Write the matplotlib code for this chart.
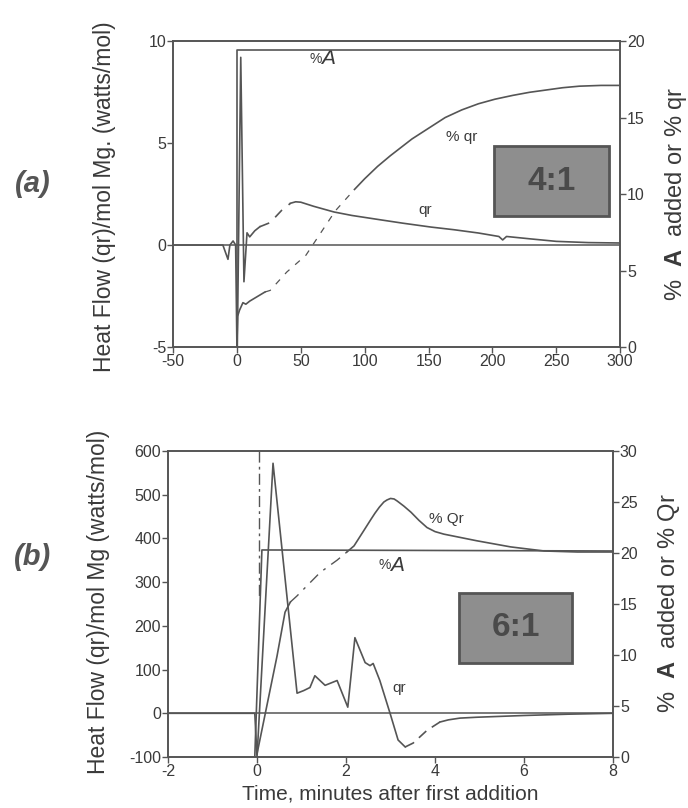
import matplotlib
matplotlib.use("Agg")
import matplotlib.pyplot as plt
from matplotlib.patches import Rectangle

plt.rcParams['font.family'] = ['Liberation Sans', 'DejaVu Sans']
plt.rcParams['mathtext.fontset'] = 'custom'
plt.rcParams['mathtext.rm'] = 'Liberation Sans'
plt.rcParams['mathtext.bf'] = 'Liberation Sans:bold'
plt.rcParams['axes.unicode_minus'] = False

INK = '#555555'
TXT = '#3a3a3a'

# ---- panel (a): 4:1, time axis -50..300 ----
a_qr_t1 = [-50, -11, -7, -5.5, -3, -1, 0, 0.3, 3, 5.5, 7.9, 10, 14, 18]
a_qr_v1 = [0, 0, -0.7, 0, 0.2, 0, -5, -5, 9.2, -1.8, 0.6, 0.4, 0.7, 0.9]
a_qr_t2 = [18, 26, 35, 42]
a_qr_v2 = [0.9, 1.1, 1.7, 2.05]
a_qr_t3 = [42, 46, 50, 60, 76, 90, 113, 130, 152, 170, 189, 205, 208, 211, 230, 250, 275, 300]
a_qr_v3 = [2.05, 2.12, 2.1, 1.9, 1.62, 1.45, 1.23, 1.07, 0.88, 0.75, 0.59, 0.42, 0.25, 0.42, 0.3, 0.18, 0.12, 0.1]

a_pA_t = [0, 0, 300]
a_pA_v = [0, 19.4, 19.4]

a_pq_t1 = [0, 0.5, 2, 4.7, 7, 10, 16, 22]
a_pq_v1 = [0, 2.0, 2.4, 2.9, 2.8, 3.0, 3.3, 3.6]
a_pq_t2 = [22, 26, 39, 54, 77, 92]
a_pq_v2 = [3.6, 3.7, 4.9, 6.0, 8.9, 10.3]
a_pq_t3 = [92, 100, 110, 120, 137, 150, 163, 176, 189, 202, 216, 229, 242, 255, 268, 285, 300]
a_pq_v3 = [10.3, 11.0, 11.8, 12.5, 13.6, 14.3, 15.0, 15.5, 15.9, 16.2, 16.45, 16.65,
           16.8, 16.95, 17.05, 17.1, 17.1]

# ---- panel (b): 6:1, time axis -2..8 min ----
b_qr_t1 = [-2, -0.05, 0.0, 0.36, 0.9, 1.05, 1.19, 1.3, 1.53, 1.8, 2.04, 2.2, 2.43,
           2.54, 2.61, 2.76, 2.99, 3.17, 3.33]
b_qr_v1 = [0, 0, -100, 572, 46, 52, 59, 86, 64, 75, 14, 173, 116, 109, 114, 75, 0, -61, -77]
b_qr_t2 = [3.33, 3.51, 3.82, 4.11]
b_qr_v2 = [-77, -68, -39, -20]
b_qr_t3 = [4.11, 4.3, 4.56, 4.94, 6, 7, 8]
b_qr_v3 = [-20, -15, -11, -9, -5, -2, 0]

b_pA_t = [-0.05, 0.11, 8]
b_pA_v = [0, 20.3, 20.2]

b_pQ_t1 = [0, 0.22, 0.45, 0.63, 0.75]
b_pQ_v1 = [0.3, 5.0, 9.9, 14.2, 15.2]
b_pQ_t2 = [0.75, 0.9, 1.42, 1.8, 2.02]
b_pQ_v2 = [15.2, 15.8, 18.1, 19.3, 20.1]
b_pQ_t3 = [2.02, 2.18, 2.4, 2.56, 2.65, 2.75, 2.85, 2.92, 3.0, 3.08, 3.15, 3.3, 3.46,
           3.64, 3.82, 4.0, 4.2, 4.94, 5.7, 6.45, 7.2, 8]
b_pQ_v3 = [20.1, 20.7, 22.2, 23.3, 23.9, 24.5, 25.0, 25.2, 25.35, 25.3, 25.1, 24.6,
           24.0, 23.2, 22.5, 22.1, 21.85, 21.2, 20.6, 20.2, 20.1, 20.1]

b_mark_t = [0.05, 0.05]
b_mark_v = [600, 268]


def style(ax, twin):
    for a in (ax, twin):
        for s in a.spines.values():
            s.set_color(INK)
            s.set_linewidth(1.2)
        a.tick_params(direction='out', length=4, width=1, colors=INK,
                      labelsize=11.5, labelcolor=TXT, pad=1)


fig = plt.figure(figsize=(6.88, 8.08), dpi=100)

# panel (a)
ax = fig.add_axes([0.2515, 0.5705, 0.650, 0.3787])
ax2 = ax.twinx()
style(ax, ax2)
ax.set_xlim(-50, 300)
ax.set_ylim(-5, 10)
ax.set_xticks(range(-50, 301, 50))
ax.set_yticks([-5, 0, 5, 10])
ax2.set_ylim(0, 20)
ax2.set_yticks([0, 5, 10, 15, 20])
ax.axhline(0, color=INK, lw=1.1)
kw = dict(color=INK, lw=1.2)
ax.plot(a_qr_t1, a_qr_v1, **kw)
ax.plot(a_qr_t2, a_qr_v2, dashes=(6, 5), **kw)
ax.plot(a_qr_t3, a_qr_v3, **kw)
ax2.plot(a_pA_t, a_pA_v, **kw)
ax2.plot(a_pq_t1, a_pq_v1, **kw)
ax2.plot(a_pq_t2, a_pq_v2, dashes=(5, 6), lw=0.9, color=INK)
ax2.plot(a_pq_t3, a_pq_v3, **kw)
ax.text(57, 9.1, '%', fontsize=10, color=TXT, va='center')
ax.text(66, 9.15, 'A', fontsize=15, style='italic', color=TXT, va='center')
ax.text(176, 5.3, '% qr', fontsize=11, color=TXT, ha='center', va='center')
ax.text(147, 1.7, 'qr', fontsize=11, color=TXT, ha='center', va='center')
ax.add_patch(Rectangle((201, 1.42), 90, 3.43, facecolor='#8e8e8e',
                       edgecolor='#555555', lw=2, zorder=3))
ax.text(246, 3.1, '4:1', fontsize=24, fontweight='bold', color='#4a4a4a',
        ha='center', va='center', zorder=4)

# panel (b)
bx = fig.add_axes([0.2442, 0.0631, 0.6468, 0.3787])
bx2 = bx.twinx()
style(bx, bx2)
bx.set_xlim(-2, 8)
bx.set_ylim(-100, 600)
bx.set_xticks(range(-2, 9, 2))
bx.set_yticks(range(-100, 601, 100))
bx2.set_ylim(0, 30)
bx2.set_yticks(range(0, 31, 5))
bx.axhline(0, color=INK, lw=1.1)
bx.plot(b_qr_t1, b_qr_v1, **kw)
bx.plot(b_qr_t2, b_qr_v2, dashes=(6, 4), **kw)
bx.plot(b_qr_t3, b_qr_v3, **kw)
bx.plot(b_mark_t, b_mark_v, dashes=(8, 3, 2, 3), lw=1.0, color=INK)
bx2.plot(b_pA_t, b_pA_v, **kw)
bx2.plot(b_pQ_t1, b_pQ_v1, **kw)
bx2.plot(b_pQ_t2, b_pQ_v2, dashes=(8, 5, 2, 5), lw=1.0, color=INK)
bx2.plot(b_pQ_t3, b_pQ_v3, **kw)
bx.text(4.25, 444, '% Qr', fontsize=11, color=TXT, ha='center', va='center')
bx.text(2.72, 340, '%', fontsize=10, color=TXT, va='center')
bx.text(2.98, 338, 'A', fontsize=15, style='italic', color=TXT, va='center')
bx.text(3.19, 57, 'qr', fontsize=11, color=TXT, ha='center', va='center')
bx.add_patch(Rectangle((4.54, 116), 2.54, 160, facecolor='#8e8e8e',
                       edgecolor='#555555', lw=2, zorder=3))
bx.text(5.81, 196, '6:1', fontsize=24, fontweight='bold', color='#4a4a4a',
        ha='center', va='center', zorder=4)
fig.text(0.567, 0.017, 'Time, minutes after first addition', fontsize=15,
         color=TXT, ha='center', va='center')

# axis titles and panel tags
fig.text(0.152, 0.757, 'Heat Flow (qr)/mol Mg. (watts/mol)', rotation=90,
         fontsize=16.5, color=TXT, ha='center', va='center')
fig.text(0.143, 0.255, 'Heat Flow (qr)/mol Mg (watts/mol)', rotation=90,
         fontsize=16.5, color=TXT, ha='center', va='center')
fig.text(0.982, 0.760, r'%  $\mathbf{A}$  added or % qr', rotation=90,
         fontsize=17, color=TXT, ha='center', va='center')
fig.text(0.973, 0.253, r'%  $\mathbf{A}$  added or % Qr', rotation=90,
         fontsize=17, color=TXT, ha='center', va='center')
fig.text(0.048, 0.772, '(a)', fontsize=21, fontweight='bold', style='italic',
         color='#555555', ha='center', va='center')
fig.text(0.048, 0.311, '(b)', fontsize=21, fontweight='bold', style='italic',
         color='#555555', ha='center', va='center')

fig.savefig('out.png', dpi=100)
